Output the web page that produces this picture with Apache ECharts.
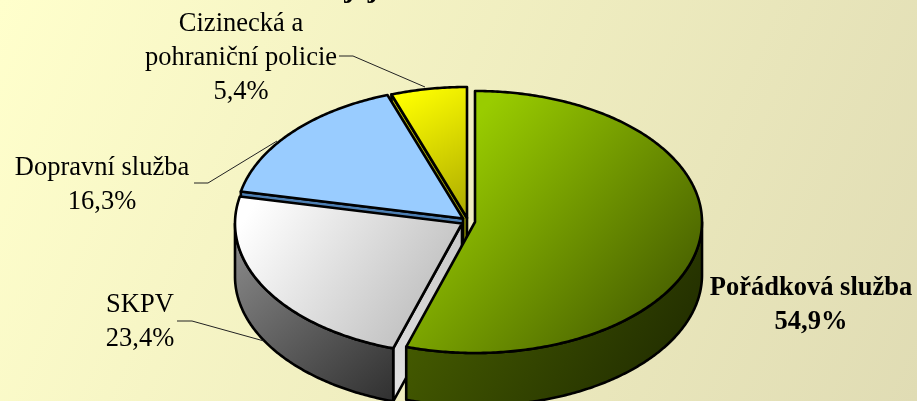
<!DOCTYPE html>
<html><head><meta charset="utf-8">
<style>html,body{margin:0;padding:0;background:#fff}#c{width:917px;height:401px}</style>
<script src="https://cdn.jsdelivr.net/npm/echarts@6/dist/echarts.min.js"></script>
</head><body><div id="c"></div>
<script>
const categories = ['Pořádková služba', 'SKPV', 'Dopravní služba', 'Cizinecká a\npohraniční policie'];
const shares = [54.9, 23.4, 16.3, 5.4];
const titleFragment = 'jej';

const RX = 227, RY = 131, DEPTH = 53;
const sliceCenters = [[475, 222], [462, 223.5], [463, 218.5], [467, 218]];
const topFills = [['#99cc00', '#4a6300'], ['#ffffff', '#b2b2b2'], ['#99ccff', '#99ccff'], ['#ffff00', '#aaa800']];
const wallFills = [['#4d6600', '#1c2600'], ['#8f8f8f', '#2f2f2f'], ['#4d7099', '#4d7099'], ['#808000', '#555500']];
const faceFills = [['#4d6600', '#1c2600'], ['#c4c4c4', '#e8e8e8'], ['#4d7fb3', '#4d7fb3'], ['#c8c800', '#808000']];
const topStops = [[0.18, 0.85], [0.08, 1], [0, 1], [0.08, 1]];
const labelPos = [[811, 305], [140, 322], [102, 185], [241, 58]];
const leaders = [null, [[177, 321], [192, 321], [264, 341]], [[194, 183], [208, 183], [277, 141]], [[339, 56], [353, 56], [425, 87]]];
const fontSize = 26.5, lineH = 34;

const grad = (c, s) => ({type: 'linear', x: 0, y: 0, x2: 1, y2: 1, colorStops: [{offset: 0, color: c[0]}, {offset: s[0], color: c[0]}, {offset: s[1], color: c[1]}, {offset: 1, color: c[1]}]});
const total = shares.reduce((a, b) => a + b, 0);
const order = shares.map((_, i) => shares.length - 1 - i);
const startOf = i => shares.slice(0, i).reduce((a, b) => a + b, 0) / total * 2 * Math.PI;

function renderItem(params, api) {
  const i = api.value(0), v = api.value(1);
  const a0 = startOf(i), a1 = a0 + v / total * 2 * Math.PI;
  const [cx, cy] = sliceCenters[i];
  const pt = (a, d) => [cx + RX * Math.sin(a), cy - RY * Math.cos(a) + (d || 0)];
  const arc = (s, e, d) => { const n = Math.max(2, Math.ceil(Math.abs(e - s) * 90)), r = [];
    for (let k = 0; k <= n; k++) r.push(pt(s + (e - s) * k / n, d)); return r; };
  const children = [];
  const poly = (points, fill, s) => children.push({type: 'polygon', shape: {points}, style: {fill: grad(fill, s), stroke: '#000', lineWidth: 2.6, lineJoin: 'round'}});
  const face = a => { const p = pt(a); poly([[cx, cy], p, [p[0], p[1] + DEPTH], [cx, cy + DEPTH]], faceFills[i], [0, 1]); };
  // cut faces looking toward the viewer
  if (a0 > Math.PI) face(a0);
  // outer wall (front half only)
  const ws = Math.max(a0, Math.PI / 2), we = Math.min(a1, Math.PI * 1.5);
  if (we > ws) poly(arc(ws, we, 0).concat(arc(we, ws, DEPTH)), wallFills[i], [0, 1]);
  // top
  poly([[cx, cy]].concat(arc(a0, a1, 0)), topFills[i], topStops[i]);
  // label
  const pct = v.toFixed(1).replace('.', ',') + '%';
  const [lx, ly] = labelPos[i];
  children.push({type: 'text', z2: 10, style: {text: categories[i] + '\n' + pct, x: lx, y: ly, textAlign: 'center', textVerticalAlign: 'middle',
    fill: '#000', lineHeight: lineH, font: (i === 0 ? 'bold ' : '') + fontSize + 'px "Liberation Serif"'}});
  if (leaders[i]) children.push({type: 'polyline', z2: 9, shape: {points: leaders[i]}, style: {fill: 'none', stroke: '#222', lineWidth: 1}});
  return {type: 'group', children};
}

const chart = echarts.init(document.getElementById('c'), null, {renderer: 'canvas'});
chart.setOption({
  animation: false,
  backgroundColor: {type: 'linear', x: 0, y: 0, x2: 1, y2: 1, colorStops: [{offset: 0, color: '#ffffcc'}, {offset: 1, color: '#e0dcb4'}]},
  title: {text: titleFragment, left: 356, top: -31, textAlign: 'center', textStyle: {fontFamily: 'Liberation Serif', fontWeight: 'bold', fontSize: 30, color: '#000'}},
  series: [{type: 'custom', coordinateSystem: 'none', renderItem, data: order.map(i => [i, shares[i]])}]
});
</script></body></html>
